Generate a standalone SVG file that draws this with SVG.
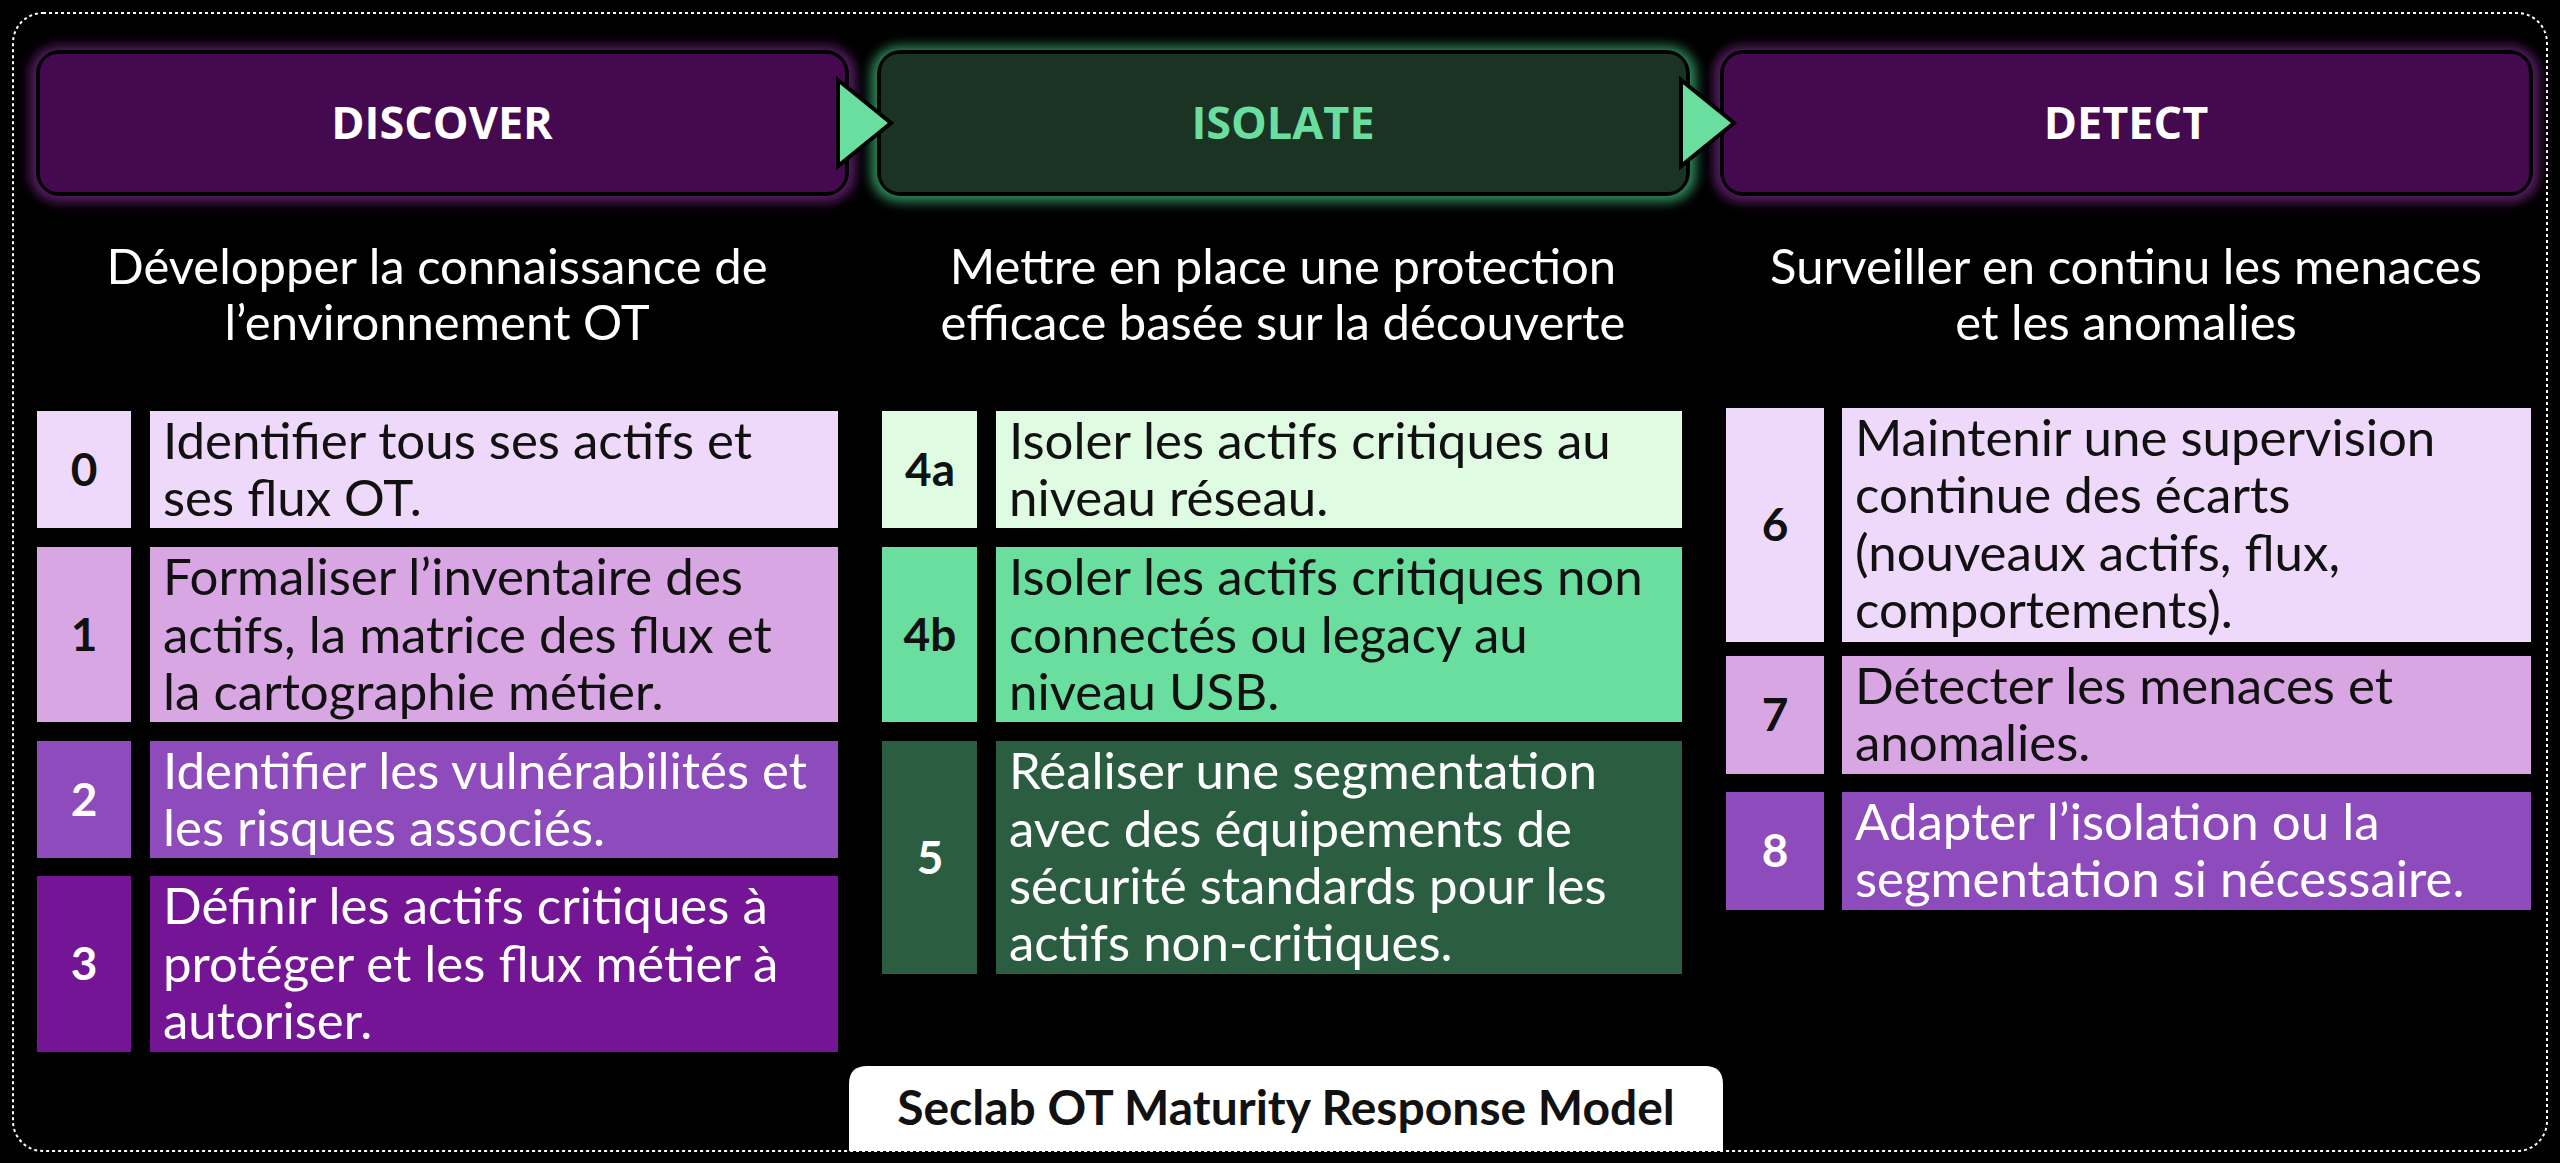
<svg xmlns="http://www.w3.org/2000/svg" width="2560" height="1163" viewBox="0 0 2560 1163">
<defs>
<style>
.hd{font-family:"Open Sans","Liberation Sans",sans-serif;font-weight:700;font-size:45px;text-anchor:middle}
.sub{font-family:"Lato","Liberation Sans",sans-serif;font-size:49px;fill:#fff;text-anchor:middle}
.tx{font-family:"Lato","Liberation Sans",sans-serif;font-size:51px}
.num{font-family:"Lato","Liberation Sans",sans-serif;font-weight:700;font-size:46px;text-anchor:middle}
.dk{fill:#111}.wt{fill:#fff}
</style>
<filter id="gp" x="-10%" y="-30%" width="120%" height="160%"><feGaussianBlur stdDeviation="6"/></filter>
</defs>
<rect width="2560" height="1163" fill="#000"/>
<rect x="13" y="13" width="2534" height="1138" rx="30" fill="none" stroke="#fff" stroke-width="2" stroke-dasharray="3,3"/>
<g id="discover">
<rect x="30" y="46" width="825" height="156" rx="28" fill="#5a1a66" filter="url(#gp)"/>
<rect x="36" y="50" width="813" height="146" rx="24" fill="#000"/>
<rect x="40" y="54" width="805" height="138" rx="18" fill="#44094f"/>
<text class="hd" x="442" y="139" fill="#fff">DISCOVER</text>
</g>
<g id="isolate">
<rect x="871" y="46" width="825" height="156" rx="28" fill="#2e8a5a" filter="url(#gp)"/>
<rect x="877" y="50" width="813" height="146" rx="24" fill="#000"/>
<rect x="881" y="54" width="805" height="138" rx="18" fill="#1b3322"/>
<text class="hd" x="1283" y="139" fill="#6ade9f">ISOLATE</text>
</g>
<g id="detect">
<rect x="1714" y="46" width="825" height="156" rx="28" fill="#5a1a66" filter="url(#gp)"/>
<rect x="1720" y="50" width="813" height="146" rx="24" fill="#000"/>
<rect x="1724" y="54" width="805" height="138" rx="18" fill="#44094f"/>
<text class="hd" x="2126" y="139" fill="#fff">DETECT</text>
</g>
<g id="connectors">
<polygon points="838,80 891,123 838,166" fill="#6ade9f" stroke="#000" stroke-width="4"/>
<polygon points="1681,80 1734,123 1681,166" fill="#6ade9f" stroke="#000" stroke-width="4"/>
</g>
<g id="subtitles">
<text class="sub" x="437" y="284">Développer la connaissance de</text>
<text class="sub" x="437" y="340">l’environnement OT</text>
<text class="sub" x="1283" y="284">Mettre en place une protection</text>
<text class="sub" x="1283" y="340">efficace basée sur la découverte</text>
<text class="sub" x="2126" y="284">Surveiller en continu les menaces</text>
<text class="sub" x="2126" y="340">et les anomalies</text>
</g>
<g id="row0"><rect x="37" y="411" width="94" height="117" fill="#efd9fb"/><rect x="150" y="411" width="688" height="117" fill="#efd9fb"/>
<text class="num dk" x="84" y="486">0</text>
<text class="tx dk" x="163" y="459">Identifier tous ses actifs et</text><text class="tx dk" x="163" y="516">ses flux OT.</text></g>
<g id="row1"><rect x="37" y="547" width="94" height="175" fill="#d9a6e4"/><rect x="150" y="547" width="688" height="175" fill="#d9a6e4"/>
<text class="num dk" x="84" y="651">1</text>
<text class="tx dk" x="163" y="595">Formaliser l’inventaire des</text><text class="tx dk" x="163" y="653">actifs, la matrice des flux et</text><text class="tx dk" x="163" y="710">la cartographie métier.</text></g>
<g id="row2"><rect x="37" y="741" width="94" height="117" fill="#8e4bbb"/><rect x="150" y="741" width="688" height="117" fill="#8e4bbb"/>
<text class="num wt" x="84" y="816">2</text>
<text class="tx wt" x="163" y="789">Identifier les vulnérabilités et</text><text class="tx wt" x="163" y="846">les risques associés.</text></g>
<g id="row3"><rect x="37" y="876" width="94" height="176" fill="#731595"/><rect x="150" y="876" width="688" height="176" fill="#731595"/>
<text class="num wt" x="84" y="980">3</text>
<text class="tx wt" x="163" y="924">Définir les actifs critiques à</text><text class="tx wt" x="163" y="982">protéger et les flux métier à</text><text class="tx wt" x="163" y="1039">autoriser.</text></g>
<g id="row4a"><rect x="882" y="411" width="95" height="117" fill="#dffbe2"/><rect x="996" y="411" width="686" height="117" fill="#dffbe2"/>
<text class="num dk" x="930" y="486">4a</text>
<text class="tx dk" x="1009" y="459">Isoler les actifs critiques au</text><text class="tx dk" x="1009" y="516">niveau réseau.</text></g>
<g id="row4b"><rect x="882" y="547" width="95" height="175" fill="#6ade9f"/><rect x="996" y="547" width="686" height="175" fill="#6ade9f"/>
<text class="num dk" x="930" y="651">4b</text>
<text class="tx dk" x="1009" y="595">Isoler les actifs critiques non</text><text class="tx dk" x="1009" y="653">connectés ou legacy au</text><text class="tx dk" x="1009" y="710">niveau USB.</text></g>
<g id="row5"><rect x="882" y="741" width="95" height="233" fill="#2b5e41"/><rect x="996" y="741" width="686" height="233" fill="#2b5e41"/>
<text class="num wt" x="930" y="874">5</text>
<text class="tx wt" x="1009" y="789">Réaliser une segmentation</text><text class="tx wt" x="1009" y="847">avec des équipements de</text><text class="tx wt" x="1009" y="904">sécurité standards pour les</text><text class="tx wt" x="1009" y="961">actifs non-critiques.</text></g>
<g id="row6"><rect x="1726" y="408" width="98" height="234" fill="#efd9fb"/><rect x="1842" y="408" width="689" height="234" fill="#efd9fb"/>
<text class="num dk" x="1775" y="541">6</text>
<text class="tx dk" x="1855" y="456">Maintenir une supervision</text><text class="tx dk" x="1855" y="513">continue des écarts</text><text class="tx dk" x="1855" y="571">(nouveaux actifs, flux,</text><text class="tx dk" x="1855" y="628">comportements).</text></g>
<g id="row7"><rect x="1726" y="656" width="98" height="118" fill="#d9a6e4"/><rect x="1842" y="656" width="689" height="118" fill="#d9a6e4"/>
<text class="num dk" x="1775" y="731">7</text>
<text class="tx dk" x="1855" y="704">Détecter les menaces et</text><text class="tx dk" x="1855" y="761">anomalies.</text></g>
<g id="row8"><rect x="1726" y="792" width="98" height="118" fill="#8e4bbb"/><rect x="1842" y="792" width="689" height="118" fill="#8e4bbb"/>
<text class="num wt" x="1775" y="867">8</text>
<text class="tx wt" x="1855" y="840">Adapter l’isolation ou la</text><text class="tx wt" x="1855" y="897">segmentation si nécessaire.</text></g>
<g id="label">
<path d="M849,1151 V1084 Q849,1066 867,1066 H1705 Q1723,1066 1723,1084 V1151 Z" fill="#fff"/>
<text x="1286" y="1125" font-family="Lato, 'Liberation Sans', sans-serif" font-weight="700" font-size="48" fill="#111" text-anchor="middle">Seclab OT Maturity Response Model</text>
</g>
</svg>
